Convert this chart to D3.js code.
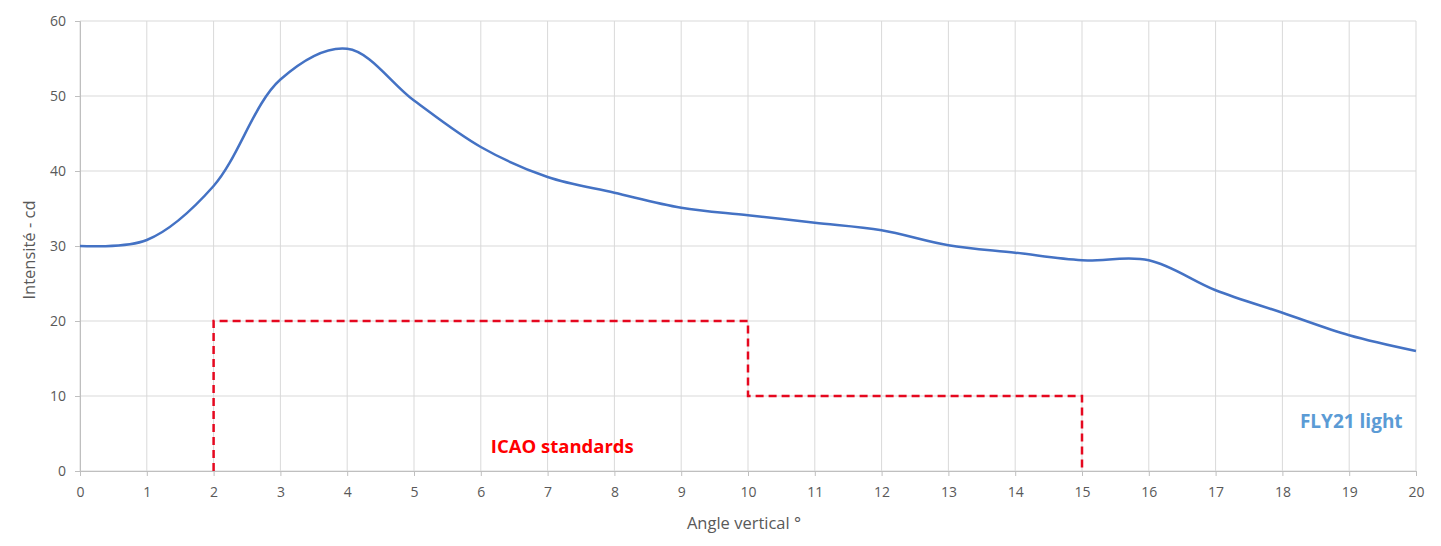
<!DOCTYPE html>
<html>
<head>
<meta charset="utf-8">
<script src="https://cdn.jsdelivr.net/npm/d3@7"></script>
<style>
  body { margin: 0; background: #fff; }
  svg text { font-family: "Open Sans", "Noto Sans", sans-serif; }
  .tick-label { fill: #595959; font-size: 14px; }
  .axis-title { fill: #595959; font-size: 16.5px; }
</style>
</head>
<body>
<div id="chart"></div>
<script>
// Light intensity vs vertical angle

const angles = [0, 1, 2, 3, 4, 5, 6, 7, 8, 9, 10, 11, 12, 13, 14, 15, 16, 17, 18, 19, 20];
const intensity = [30, 30.8, 38, 52.2, 56.3, 49.4, 43.2, 39.2, 37.1, 35.1, 34.1, 33.1, 32.1, 30.1, 29.1, 28.1, 28.1, 24.1, 21.1, 18.1, 16];

// ICAO minimum standard (step line)
const icaoAngles = [2, 2, 10, 10, 15, 15];
const icaoValues = [0, 20, 20, 10, 10, 0];

const xTicks = d3.range(0, 21, 1);
const yTicks = [0, 10, 20, 30, 40, 50, 60];

const margin = { top: 21, right: 25, bottom: 75, left: 80 };
const W = 1441, H = 546;
const width = W - margin.left - margin.right;
const height = H - margin.top - margin.bottom;

const svg = d3.select('#chart').append('svg')
    .attr('width', W)
    .attr('height', H);

const g = svg.append('g')
    .attr('transform', `translate(${margin.left},${margin.top})`);

const x = d3.scaleLinear().domain([0, 20]).range([0, width]);
const y = d3.scaleLinear().domain([0, 60]).range([height, 0]);

// Gridlines
g.append('g').selectAll('line')
    .data(xTicks)
    .enter().append('line')
    .attr('x1', d => x(d)).attr('x2', d => x(d))
    .attr('y1', 0).attr('y2', height)
    .attr('stroke', '#d9d9d9').attr('stroke-width', 1);

g.append('g').selectAll('line')
    .data(yTicks)
    .enter().append('line')
    .attr('x1', 0).attr('x2', width)
    .attr('y1', d => y(d)).attr('y2', d => y(d))
    .attr('stroke', '#d9d9d9').attr('stroke-width', 1);

// Axes
const xAxis = d3.axisBottom(x).tickValues(xTicks).tickSize(5).tickPadding(11);
const yAxis = d3.axisLeft(y).tickValues(yTicks).tickSize(5).tickPadding(9);

const gx = g.append('g')
    .attr('transform', `translate(0,${height})`)
    .call(xAxis);
const gy = g.append('g').call(yAxis);

[gx, gy].forEach(ax => {
    ax.select('.domain').attr('stroke', '#bfbfbf');
    ax.selectAll('.tick line').attr('stroke', '#bfbfbf');
    ax.selectAll('.tick text')
        .attr('class', 'tick-label')
        .attr('font-family', null)
        .attr('font-size', null);
});

// Axis titles
g.append('text')
    .attr('class', 'axis-title')
    .attr('x', width / 2 - 4)
    .attr('y', height + 58)
    .attr('text-anchor', 'middle')
    .text('Angle vertical °');

g.append('text')
    .attr('class', 'axis-title')
    .attr('transform', `translate(-45,${height / 2 + 4}) rotate(-90)`)
    .attr('text-anchor', 'middle')
    .text('Intensité - cd');

// ICAO dashed step line
const icaoLine = d3.line()
    .x((d, i) => x(icaoAngles[i]))
    .y(d => y(d));

g.append('path')
    .attr('d', icaoLine(icaoValues))
    .attr('fill', 'none')
    .attr('stroke', '#e5081f')
    .attr('stroke-width', 2.5)
    .attr('stroke-dasharray', '8,5');

// FLY21 smooth curve
const curveLine = d3.line()
    .x((d, i) => x(angles[i]))
    .y(d => y(d))
    .curve(d3.curveCatmullRom.alpha(0.5));

g.append('path')
    .attr('d', curveLine(intensity))
    .attr('fill', 'none')
    .attr('stroke', '#4472c4')
    .attr('stroke-width', 2.5);

// Labels
g.append('text')
    .attr('x', x(6.15))
    .attr('y', y(2.35))
    .attr('fill', '#ff0000')
    .attr('font-size', 18.5)
    .attr('font-weight', 'bold')
    .text('ICAO standards');

g.append('text')
    .attr('x', x(19.8))
    .attr('y', y(5.7))
    .attr('text-anchor', 'end')
    .attr('fill', '#5b9bd5')
    .attr('font-size', 19)
    .attr('font-weight', 'bold')
    .text('FLY21 light');
</script>
</body>
</html>
